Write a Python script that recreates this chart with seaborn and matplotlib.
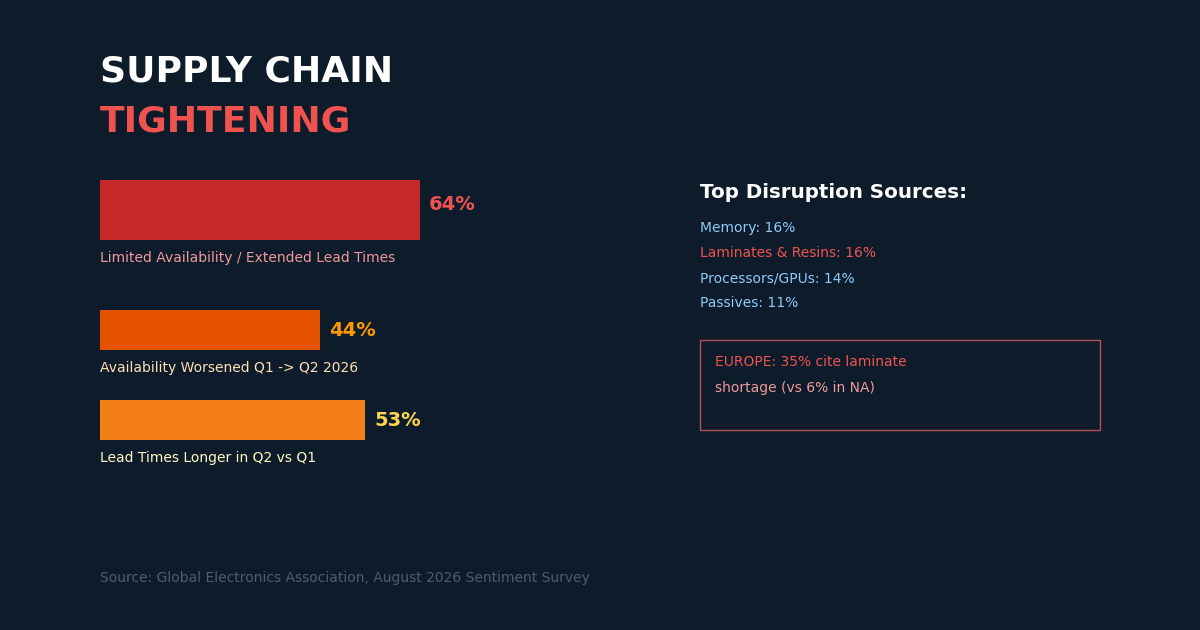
import matplotlib
matplotlib.use("Agg")
import matplotlib.pyplot as plt
import seaborn as sns
from matplotlib.patches import Rectangle

sns.set_style("dark")
plt.rcParams['font.family'] = ['DejaVu Sans']

BG = "#0d1b2a"

# data
bar_labels = ["Limited Availability / Extended Lead Times",
              "Availability Worsened Q1 -> Q2 2026",
              "Lead Times Longer in Q2 vs Q1"]
bar_values = [64, 44, 53]
bar_colors = ["#c62828", "#e65100", "#f57f17"]
value_colors = ["#ef5350", "#ff9800", "#ffd54f"]
label_colors = ["#ef9a9a", "#ffe0b2", "#fff9c4"]
sources = ["Memory: 16%", "Laminates & Resins: 16%", "Processors/GPUs: 14%", "Passives: 11%"]
source_colors = ["#90caf9", "#ef5350", "#90caf9", "#90caf9"]

# layout (pixels)
bar_centers = [210, 330, 420]
bar_heights = [60, 40, 40]

fig = plt.figure(figsize=(12, 6.3), dpi=100, facecolor=BG)
ax0 = fig.add_axes([0, 0, 1, 1])
ax0.set_xlim(0, 1200); ax0.set_ylim(630, 0); ax0.axis("off")
ax0.set_facecolor(BG)

# bar axes: x from 100px to 600px = 0..100%
ax = fig.add_axes([100/1200, 0, 500/1200, 1])
ax.set_xlim(0, 100); ax.set_ylim(630, 0); ax.axis("off")
ax.patch.set_alpha(0)
ax.barh(bar_centers, bar_values, height=bar_heights, left=0, color=bar_colors, linewidth=0)
for c, h, v, lab, vc, lc in zip(bar_centers, bar_heights, bar_values, bar_labels, value_colors, label_colors):
    ax.text(v + 1.8, c - 6 if h > 50 else c, f"{v}%", color=vc, fontsize=14,
            fontweight="bold", va="center", ha="left")
    ax.text(0, c + h / 2 + 18, lab, color=lc, fontsize=10, va="center", ha="left")

ax0.text(100, 72, "SUPPLY CHAIN", color="white", fontsize=26, fontweight="bold", va="center")
ax0.text(100, 122, "TIGHTENING", color="#ef5350", fontsize=26, fontweight="bold", va="center")

ax0.text(700, 192, "Top Disruption Sources:", color="white", fontsize=14.3, fontweight="bold", va="center")
for i, (s, c) in enumerate(zip(sources, source_colors)):
    ax0.text(700, 228 + 25 * i, s, color=c, fontsize=10, va="center")

ax0.add_patch(Rectangle((700, 340), 400, 90, fill=False, edgecolor="#b25058", lw=1))
ax0.text(715, 362, "EUROPE: 35% cite laminate", color="#ef5350", fontsize=10, va="center")
ax0.text(715, 388, "shortage (vs 6% in NA)", color="#ef9a9a", fontsize=10, va="center")

ax0.text(100, 578, "Source: Global Electronics Association, August 2026 Sentiment Survey",
         color="#4f5d6b", fontsize=10, va="center")

fig.savefig("out.png", dpi=100, facecolor=BG)
